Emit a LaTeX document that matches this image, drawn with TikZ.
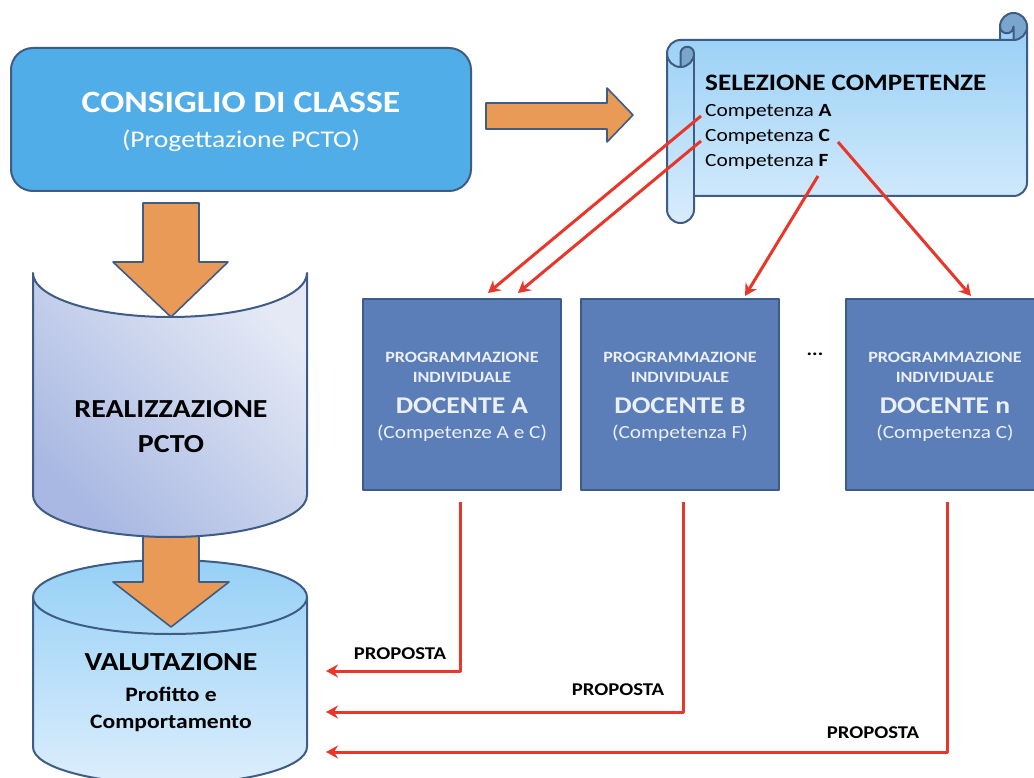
\documentclass[tikz,border=0pt]{standalone}
\usepackage{fontspec}
\setmainfont{Carlito}[FakeStretch=1.15]
\usetikzlibrary{arrows.meta}
\definecolor{outl}{RGB}{62,92,132}
\definecolor{consfill}{RGB}{81,173,232}
\definecolor{orangef}{RGB}{232,154,86}
\definecolor{docfill}{RGB}{91,126,184}
\definecolor{docline}{RGB}{60,90,138}
\definecolor{redl}{RGB}{233,54,42}
\definecolor{scrtop}{RGB}{152,208,246}
\definecolor{scrbot}{RGB}{216,236,252}
\definecolor{scrdark}{RGB}{122,166,206}
\definecolor{realA}{RGB}{168,184,226}
\definecolor{realB}{RGB}{228,233,245}
\definecolor{valtop}{RGB}{150,208,246}
\definecolor{valbot}{RGB}{220,238,252}
\definecolor{doctext}{RGB}{235,239,246}
\begin{document}
\begin{tikzpicture}[x=1pt,y=-1pt,line join=round,
  shapeline/.style={draw=outl,line width=2pt},
  orangearrow/.style={fill=orangef,draw=outl,line width=1.6pt},
  consbox/.style={rectangle,rounded corners=22pt,fill=consfill,draw=outl,line width=2pt,minimum width=460pt,minimum height=143pt,inner sep=0pt},
  docbox/.style={rectangle,fill=docfill,draw=docline,line width=2.5pt,minimum width=198pt,minimum height=191pt,inner sep=0pt},
  redarrow/.style={draw=redl,line width=3pt,-{Stealth[length=12pt,width=13pt,inset=4pt]}},
  wt/.style={text=white,inner sep=0pt,anchor=base},
  dt/.style={text=doctext,inner sep=0pt,anchor=base},
  bt/.style={text=black,inner sep=0pt,anchor=base},
  btl/.style={text=black,inner sep=0pt,anchor=base west}]
\useasboundingbox (0,0) rectangle (1034,778);
\clip (0,0) rectangle (1034,778);
\fill[white] (0,0) rectangle (1034,778);

% VALUTAZIONE cylinder
\path[shapeline,top color=valtop,bottom color=valbot] (33,597) -- (33,747)
  arc[start angle=180,end angle=0,x radius=137,y radius=37] -- (307,597)
  arc[start angle=0,end angle=-180,x radius=137,y radius=37] -- cycle;
\draw[shapeline] (33,597) arc[start angle=180,end angle=0,x radius=137,y radius=37];

% arrow 2
\draw[orangearrow] (143,530) -- (199,530) -- (199,582) -- (229,582) -- (171,627) -- (113,582) -- (143,582) -- cycle;

% REALIZZAZIONE shape
\path[shapeline,top color=realB,bottom color=realA,shading angle=-45] (33,273) -- (33,495)
  arc[start angle=180,end angle=0,x radius=137,y radius=42] -- (307,273)
  arc[start angle=0,end angle=180,x radius=137,y radius=44] -- cycle;

% arrow 1
\draw[orangearrow] (143,203) -- (199,203) -- (199,262) -- (228,262) -- (171,317) -- (113,262) -- (143,262) -- cycle;

% CONSIGLIO box
\node[consbox] (cons) at (241,119.5) {};
\node[wt,font=\fontsize{31}{36}\selectfont\bfseries] (consT) at (241,113) {CONSIGLIO DI CLASSE};
\node[wt,font=\fontsize{24}{28}\selectfont] (consS) at (241,148) {(Progettazione PCTO)};

% right arrow
\draw[orangearrow] (486,103) -- (607,103) -- (607,88) -- (633,115) -- (607,142) -- (607,129) -- (486,129) -- cycle;

% scroll
\fill[scrdark] (1013.5,26.5) circle[radius=13.5];
\path[top color=scrtop,bottom color=scrbot] (1027,26.5) arc[start angle=0,delta angle=90,radius=13.5]
  -- (1013.5,26.5) arc[start angle=0,delta angle=180,radius=6.75] -- (1000,40) -- (680.5,40)
  arc[start angle=270,delta angle=-90,radius=13.5] -- (667,209.5)
  arc[start angle=180,delta angle=-180,radius=13.5] -- (694,196) -- (1013.5,196)
  arc[start angle=90,delta angle=-90,radius=13.5] -- cycle;
\fill[scrdark] (680.5,67) arc[start angle=90,delta angle=-90,radius=13.5]
  arc[start angle=0,delta angle=-180,radius=6.75] -- cycle;
\draw[shapeline] (667,53.5) arc[start angle=180,delta angle=90,radius=13.5] -- (1000,40) -- (1000,26.5)
  arc[start angle=180,delta angle=180,radius=13.5] -- (1027,182.5)
  arc[start angle=0,delta angle=90,radius=13.5] -- (694,196) -- (694,209.5)
  arc[start angle=0,delta angle=180,radius=13.5] -- cycle;
\draw[shapeline] (1000,40) -- (1013.5,40) arc[start angle=90,delta angle=-90,radius=13.5];
\draw[shapeline] (1013.5,40) -- (1013.5,26.5) arc[start angle=0,delta angle=180,radius=6.75];
\draw[shapeline] (680.5,67) -- (680.5,53.5) arc[start angle=180,delta angle=180,radius=6.75]
  arc[start angle=0,delta angle=180,radius=13.5];
\draw[shapeline] (694,53.5) -- (694,196);

\node[btl,font=\fontsize{23.6}{28}\selectfont\bfseries] (selT) at (705,91) {SELEZIONE COMPETENZE};
\node[btl,font=\fontsize{18.6}{22}\selectfont] (cA) at (705,117) {Competenza \textbf{A}};
\node[btl,font=\fontsize{18.6}{22}\selectfont] (cC) at (705,142) {Competenza \textbf{C}};
\node[btl,font=\fontsize{18.6}{22}\selectfont] (cF) at (705,167) {Competenza \textbf{F}};

% docente boxes
\node[docbox] (docA) at (462,394.5) {};
\node[docbox] (docB) at (680,394.5) {};
\node[docbox] (docN) at (945,394.5) {};

\foreach \nm/\cx/\dl/\cl in {A/462/A/Competenze A e C,B/680/B/Competenza F,N/945/n/Competenza C}{
  \node[dt,font=\fontsize{15.7}{18}\selectfont\bfseries] (p\nm) at (\cx,362) {PROGRAMMAZIONE};
  \node[dt,font=\fontsize{15.7}{18}\selectfont\bfseries] (i\nm) at (\cx,382) {INDIVIDUALE};
  \node[dt,font=\fontsize{24}{28}\selectfont\bfseries] (d\nm) at (\cx,413) {DOCENTE \dl};
  \node[dt,font=\fontsize{18.5}{22}\selectfont] (c\nm) at (\cx,438) {(\cl)};
}
\node[bt,font=\fontsize{18}{20}\selectfont\bfseries] (dots) at (815,355) {...};

% realizzazione / valutazione text
\node[bt,font=\fontsize{26}{30}\selectfont\bfseries] (realT) at (171,417) {REALIZZAZIONE};
\node[bt,font=\fontsize{26}{30}\selectfont\bfseries] (realP) at (171,452) {PCTO};
\node[bt,font=\fontsize{26}{30}\selectfont\bfseries] (valT) at (171,670) {VALUTAZIONE};
\node[bt,font=\fontsize{20.5}{24}\selectfont\bfseries] (valP) at (171,701) {Profitto e};
\node[bt,font=\fontsize{20.5}{24}\selectfont\bfseries] (valC) at (171,728) {Comportamento};

% connector coordinates
\coordinate (sA) at (701,116);
\coordinate (sC) at (701,141);
\coordinate (sF) at (818,176);
\coordinate (sC2) at (838,142);
\coordinate (tA1) at (488,293);
\coordinate (tA2) at (518,293);
\coordinate (tB) at (745,296);
\coordinate (tN) at (971,296);
\draw[redarrow] (sA) -- (tA1);
\draw[redarrow] (sC) -- (tA2);
\draw[redarrow] (sF) -- (tB);
\draw[redarrow] (sC2) -- (tN);

\coordinate (bA) at (460,502);
\coordinate (bB) at (683,502);
\coordinate (bN) at (947,502);
\coordinate (vA) at (326,671);
\coordinate (vB) at (326,712);
\coordinate (vN) at (326,752);
\draw[redarrow] (bA) |- (vA);
\draw[redarrow] (bB) |- (vB);
\draw[redarrow] (bN) |- (vN);
\node[bt,font=\fontsize{18}{20}\selectfont\bfseries] (propA) at (400,659) {PROPOSTA};
\node[bt,font=\fontsize{18}{20}\selectfont\bfseries] (propB) at (618,695) {PROPOSTA};
\node[bt,font=\fontsize{18}{20}\selectfont\bfseries] (propN) at (873,738) {PROPOSTA};
\end{tikzpicture}
\end{document}
